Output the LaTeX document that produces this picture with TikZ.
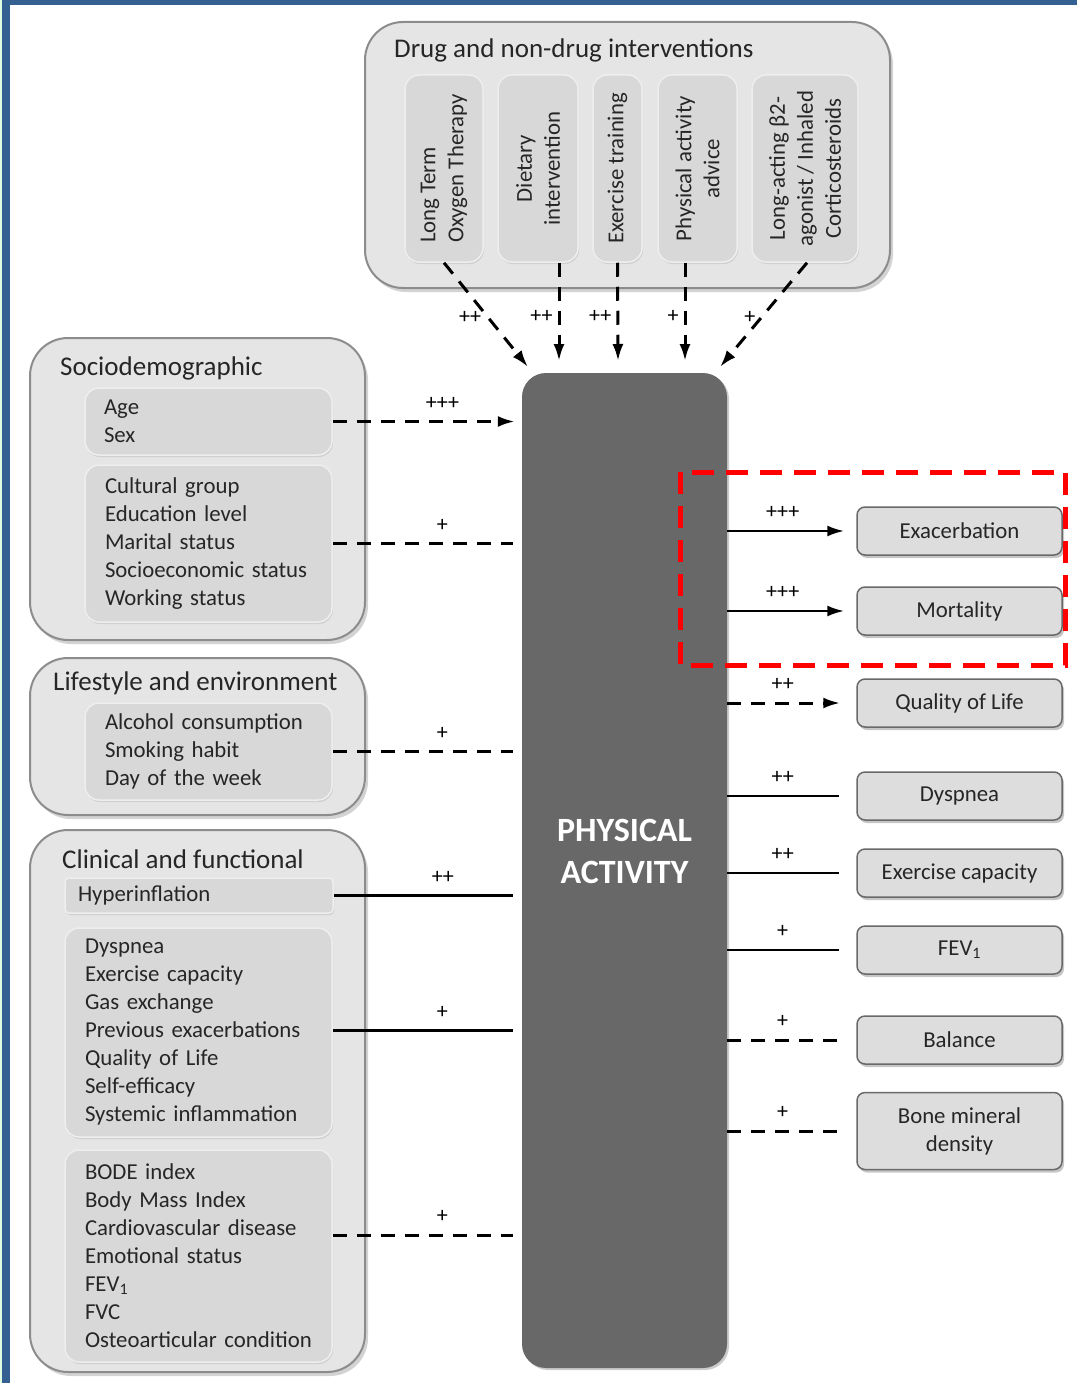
\documentclass[tikz,border=0pt]{standalone}
\usepackage{fontspec}
\setmainfont{Carlito}
\usetikzlibrary{arrows.meta,shadows}

\definecolor{frameblue}{RGB}{52,96,146}
\definecolor{panelfill}{RGB}{229,229,229}
\definecolor{panelline}{RGB}{140,140,140}
\definecolor{itemfill}{RGB}{216,216,216}
\definecolor{itemline}{RGB}{238,238,238}
\definecolor{outcomefill}{RGB}{221,221,221}
\definecolor{outcomeline}{RGB}{105,105,105}
\definecolor{pafill}{RGB}{104,104,104}

\newcommand\titlesize{\fontsize{27}{32}\selectfont}
\newcommand\itemsize{\fontsize{22.8}{28}\selectfont}
\newcommand\signsize{\fontsize{22}{24}\selectfont}
\newcommand\pasize{\fontsize{34}{42}\selectfont}

\tikzset{
  panel/.style={draw=panelline, line width=2pt, fill=panelfill, rounded corners=38pt,
    drop shadow={shadow xshift=3pt, shadow yshift=-4pt, opacity=.35}},
  paneltitle/.style={anchor=west, inner sep=0pt, font=\titlesize, text=black!85},
  item/.style={draw=itemline, line width=1.5pt, fill=itemfill, rounded corners=14pt,
    align=left, font=\itemsize, text=black!85, inner ysep=0pt,
    drop shadow={shadow xshift=1pt, shadow yshift=-2pt, opacity=.2}},
  vitem/.style={item, rotate=90, align=center, inner xsep=0pt, minimum width=187pt},
  outcome/.style={draw=outcomeline, line width=1.5pt, fill=outcomefill, rounded corners=8pt,
    minimum width=205pt, minimum height=48pt, align=center, font=\itemsize, text=black!85,
    drop shadow={shadow xshift=2pt, shadow yshift=-3pt, opacity=.45}},
  pabox/.style={fill=pafill, rounded corners=24pt, minimum width=205pt, minimum height=995pt,
    drop shadow={shadow xshift=2pt, shadow yshift=-2pt, opacity=.4}},
  patitle/.style={align=center, font=\pasize\bfseries, text=white},
  link/.style={line width=2.6pt, black},
  dlink/.style={line width=3pt, black, dash pattern=on 14pt off 10pt},
  tip/.style={-{Latex[length=17pt,width=11pt]}},
  sign/.style={font=\signsize, inner sep=1pt, above=10pt},
  lsign/.style={font=\signsize, inner sep=1pt, left=4pt},
  highlight/.style={draw=red, line width=5pt, dash pattern=on 22pt off 12pt}
}

\begin{document}
\begin{tikzpicture}[x=1pt, y=-1pt]
\useasboundingbox (0,0) rectangle (1077,1383);

% page frame
\fill[green!12] (0,0) rectangle (2,1383);
\fill[frameblue] (2,0) rectangle (10,1383);
\fill[frameblue] (2,0) rectangle (1077,5);

% panels
\node[panel, minimum width=525pt, minimum height=266pt] (drug) at (627.5,155) {};
\node[panel, minimum width=335pt, minimum height=302pt] (socio) at (197.5,489) {};
\node[panel, minimum width=335pt, minimum height=157pt] (life) at (197.5,736.5) {};
\node[panel, minimum width=335pt, minimum height=542pt] (clin) at (197.5,1101) {};

\node[paneltitle] (drugtitle) at (394,50) {Drug and non-drug interventions};
\node[paneltitle] (sociotitle) at (60,368) {Sociodemographic};
\node[paneltitle] (lifetitle) at (53,683) {Lifestyle and environment};
\node[paneltitle] (clintitle) at (62,859) {Clinical and functional};

% interventions
\node[vitem, minimum height=78pt, align=left, inner xsep=18pt] (ltot) at (444,168.5) {Long Term\\Oxygen Therapy};
\node[vitem, minimum height=80pt] (diet) at (538,168.5) {Dietary\\intervention};
\node[vitem, minimum height=49pt] (extr) at (617.5,168.5) {Exercise training};
\node[vitem, minimum height=79pt] (paadv) at (697.5,168.5) {Physical activity\\advice};
\node[vitem, minimum height=106pt] (laba) at (805,168.5) {Long-acting β2-\\agonist / Inhaled\\Corticosteroids};

% determinants
\node[item, minimum width=247pt, minimum height=67pt, text width=209pt, inner xsep=19pt] (agesex) at (208.5,421.5) {Age\\Sex};
\node[item, minimum width=247pt, minimum height=157pt, text width=207pt, inner xsep=20pt] (socdet) at (208.5,543.5)
  {Cultural group\\Education level\\Marital status\\Socioeconomic status\\Working status};
\node[item, minimum width=247pt, minimum height=97pt, text width=207pt, inner xsep=20pt] (habits) at (208.5,751.5)
  {Alcohol consumption\\Smoking habit\\Day of the week};
\node[item, rounded corners=4pt, minimum width=268pt, minimum height=35pt, text width=242pt, inner xsep=13pt] (hyper) at (199,895.5) {Hyperinflation};
\node[item, minimum width=267pt, minimum height=209pt, text width=227pt, inner xsep=20pt] (clinA) at (198.5,1032.5)
  {Dyspnea\\Exercise capacity\\Gas exchange\\Previous exacerbations\\Quality of Life\\Self-efficacy\\Systemic inflammation};
\node[item, minimum width=267pt, minimum height=212pt, text width=227pt, inner xsep=20pt] (clinB) at (198.5,1256)
  {BODE index\\Body Mass Index\\Cardiovascular disease\\Emotional status\\FEV\textsubscript{1}\\FVC\\Osteoarticular condition};

% physical activity
\node[pabox] (pa) at (624.5,870.5) {};
\node[patitle] (patext) at (624.5,851) {PHYSICAL\\ACTIVITY};

% outcomes
\node[outcome] (exac) at (959.5,531) {Exacerbation};
\node[outcome] (mort) at (959.5,611) {Mortality};
\node[outcome] (qol) at (959.5,703) {Quality of Life};
\node[outcome] (dysp) at (959.5,796) {Dyspnea};
\node[outcome] (excap) at (959.5,873) {Exercise capacity};
\node[outcome] (fev) at (959.5,950) {FEV\textsubscript{1}};
\node[outcome] (bal) at (959.5,1040) {Balance};
\node[outcome, minimum height=77pt] (bone) at (959.5,1131) {Bone mineral\\density};

% arrow ends on top of the activity box
\coordinate (in1) at (528,367);
\coordinate (in2) at (559,361);
\coordinate (in3) at (618,361);
\coordinate (in4) at (685,361);
\coordinate (in5) at (720,367);

\draw[dlink, tip] (ltot.west) -- (in1) node[lsign, pos=.52] {++};
\draw[dlink, tip] ([xshift=21pt]diet.west) -- (in2) node[lsign, pos=.55] {++};
\draw[dlink, tip] (extr.west) -- (in3) node[lsign, pos=.55] {++};
\draw[dlink, tip] ([xshift=-12.5pt]paadv.west) -- (in4) node[lsign, pos=.55] {+};
\draw[dlink, tip] ([xshift=2pt]laba.west) -- (in5) node[lsign, pos=.52] {+};

% determinants -> activity
\draw[dlink, tip, shorten >=7pt] (agesex.east) -- (agesex.east -| pa.west) node[sign, pos=.58] {+++};
\draw[dlink, shorten >=9pt] (socdet.east) -- (socdet.east -| pa.west) node[sign, pos=.58] {+};
\draw[dlink, shorten >=9pt] (habits.east) -- (habits.east -| pa.west) node[sign, pos=.58] {+};
\draw[link, shorten >=9pt] (hyper.east) -- (hyper.east -| pa.west) node[sign, pos=.58] {++};
\draw[link, shorten >=9pt] ([yshift=2pt]clinA.east) -- ([yshift=2pt]clinA.east -| pa.west) node[sign, pos=.58] {+};
\draw[dlink, shorten >=9pt] ([yshift=21pt]clinB.east) -- ([yshift=21pt]clinB.east -| pa.west) node[sign, pos=.58] {+};

% activity -> outcomes
\draw[link, tip, shorten >=12pt] (pa.east |- exac) -- (exac.west) node[sign, pos=.43] {+++};
\draw[link, tip, shorten >=12pt] (pa.east |- mort) -- (mort.west) node[sign, pos=.43] {+++};
\draw[dlink, tip, shorten >=16pt] (pa.east |- qol) -- (qol.west) node[sign, pos=.43] {++};
\draw[link, shorten >=17pt] (pa.east |- dysp) -- (dysp.west) node[sign, pos=.43] {++};
\draw[link, shorten >=17pt] (pa.east |- excap) -- (excap.west) node[sign, pos=.43] {++};
\draw[link, shorten >=17pt] (pa.east |- fev) -- (fev.west) node[sign, pos=.43] {+};
\draw[dlink, shorten >=14pt] (pa.east |- bal) -- (bal.west) node[sign, pos=.43] {+};
\draw[dlink, shorten >=14pt] (pa.east |- bone) -- (bone.west) node[sign, pos=.43] {+};

% highlighted outcomes
\draw[highlight] (680,472) rectangle (1065,665);
\end{tikzpicture}
\end{document}
